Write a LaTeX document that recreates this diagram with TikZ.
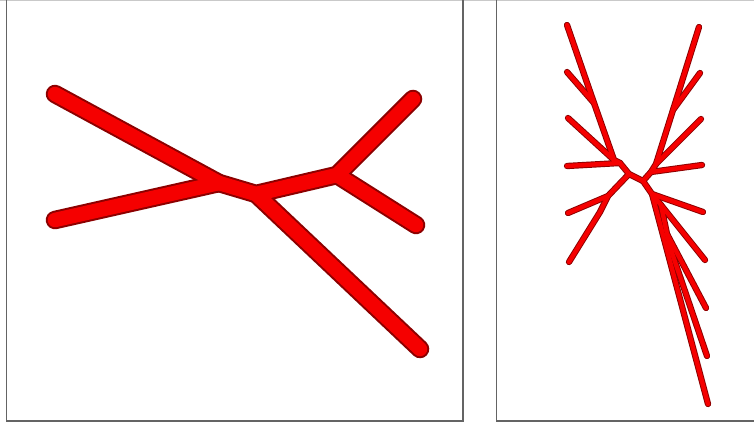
\documentclass[tikz,border=0pt]{standalone}
\usepackage{tikz}
\definecolor{tubedark}{RGB}{140,0,0}
\definecolor{tubered}{RGB}{245,0,0}
\definecolor{framegray}{RGB}{100,100,100}
\tikzset{
  framebox/.style={draw=framegray, line width=1.3pt},
  thickouter/.style={draw=tubedark, line width=18.5pt, line cap=round, line join=round},
  thickinner/.style={draw=tubered, line width=14.5pt, line cap=round, line join=round},
  thinouter/.style={draw=tubedark, line width=6.3pt, line cap=round, line join=round},
  thininner/.style={draw=tubered, line width=4.4pt, line cap=round, line join=round},
}
\begin{document}
\begin{tikzpicture}[x=1pt,y=-1pt]
\useasboundingbox (0,0) rectangle (754,425);
\fill[white] (0,0) rectangle (754,425);
\draw[framegray!35, line width=0.8pt] (0,0.5) -- (754,0.5);
\draw[framebox] (6.5,-2) -- (6.5,421) -- (463,421) -- (463,-2);
\draw[framebox] (496.5,-2) -- (496.5,421) -- (760,421);
% left tree
\coordinate (A) at (55,94);
\coordinate (B) at (55,220);
\coordinate (J1) at (219,183);
\coordinate (J2) at (256,194);
\coordinate (J3) at (337,175);
\coordinate (C) at (413,99);
\coordinate (D) at (416,225);
\coordinate (E) at (420,349);
\foreach \s in {thickouter,thickinner}{
  \draw[\s] (A) -- (J1) -- (J2) -- (J3) -- (C);
  \draw[\s] (B) -- (J1);
  \draw[\s] (J2) -- (E);
  \draw[\s] (J3) -- (D);
}
% right tree
\coordinate (L1) at (567,25);
\coordinate (L2) at (567,72);
\coordinate (L3) at (568,118);
\coordinate (L4) at (567,166);
\coordinate (LA) at (594,103);
\coordinate (LB) at (614,160);
\coordinate (LC) at (620,163);
\coordinate (LD) at (629,174);
\coordinate (M) at (643,181);
\coordinate (R1) at (699,27);
\coordinate (R2) at (700,73);
\coordinate (R3) at (701,119);
\coordinate (R4) at (702,165);
\coordinate (RA) at (673,110);
\coordinate (RB) at (656,164);
\coordinate (RC) at (651,172);
\coordinate (LL1) at (568,213);
\coordinate (LL2) at (569,262);
\coordinate (LE) at (608,196);
\coordinate (LF) at (600,212);
\coordinate (R5) at (703,212);
\coordinate (RL1) at (705,260);
\coordinate (RL2) at (706,308);
\coordinate (RL3) at (707,356);
\coordinate (RL4) at (708,404);
\coordinate (T1) at (652,194);
\coordinate (T2) at (661,205);
\coordinate (T3) at (667,234);
\coordinate (T4) at (671,250);
\foreach \s in {thinouter,thininner}{
  \draw[\s] (L1) -- (LA) -- (LB) -- (LC) -- (LD) -- (M);
  \draw[\s] (L2) -- (LA);
  \draw[\s] (L3) -- (LB);
  \draw[\s] (L4) -- (LC);
  \draw[\s] (LD) -- (LE) -- (LF) -- (LL2);
  \draw[\s] (LL1) -- (LE);
  \draw[\s] (M) -- (RC) -- (RB) -- (RA) -- (R1);
  \draw[\s] (R2) -- (RA);
  \draw[\s] (R3) -- (RB);
  \draw[\s] (R4) -- (RC);
  \draw[\s] (M) -- (T1) -- (RL4);
  \draw[\s] (T1) -- (R5);
  \draw[\s] (T1) -- (T2) -- (RL1);
  \draw[\s] (T2) -- (T3) -- (RL2);
  \draw[\s] (T3) -- (T4) -- (RL3);
}
\end{tikzpicture}
\end{document}
